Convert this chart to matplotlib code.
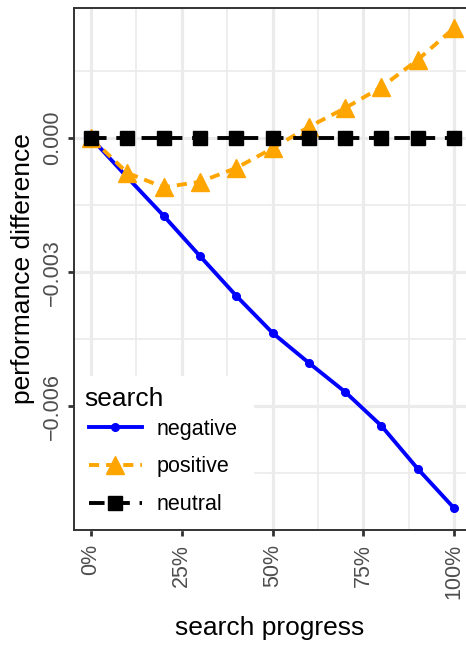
import matplotlib
matplotlib.use("Agg")
import matplotlib.pyplot as plt
from matplotlib.ticker import MultipleLocator, FixedLocator

plt.rcParams["font.family"] = ["Liberation Sans", "DejaVu Sans"]

# valores
progress = [0.0, 0.1, 0.2, 0.3, 0.4, 0.5, 0.6, 0.7, 0.8, 0.9, 1.0]
negative = [0.0, -0.00088, -0.00174, -0.00264, -0.00353, -0.00436,
            -0.00503, -0.00568, -0.00644, -0.0074, -0.00828]
positive = [0.0, -0.00078, -0.0011, -0.00098, -0.00067, -0.00023,
            0.00025, 0.00067, 0.00114, 0.00175, 0.00246]
neutral = [0.0] * len(progress)

x_ticks = [0.0, 0.25, 0.5, 0.75, 1.0]
x_labels = ["0%", "25%", "50%", "75%", "100%"]
y_ticks = [-0.006, -0.003, 0.0]
y_labels = ["\u22120.006", "\u22120.003", "0.000"]

fig = plt.figure(figsize=(4.66, 6.46), dpi=100)
ax = fig.add_axes([74 / 466, 1 - 530 / 646, 1 - 74 / 466, (530 - 8) / 646])

lw = 2.8
ax.plot(progress, negative, color="#0000FF", lw=lw, marker="o", ms=5.5,
        label="negative", zorder=3)
ax.plot(progress, positive, color="#FFA500", lw=lw, ls=(0, (2.6, 1.8)),
        marker="^", ms=12.5, label="positive", zorder=3)
ax.plot(progress, neutral, color="black", lw=lw, ls=(0, (4, 2.5)),
        marker="s", ms=10, label="neutral", zorder=3)

ax.set_xlim(-0.047, 1.033)
ax.set_ylim(-0.00877, 0.00291)

ax.xaxis.set_major_locator(FixedLocator(x_ticks))
ax.set_xticklabels(x_labels, rotation=90, color="#4D4D4D", fontsize=15.5)
ax.xaxis.set_minor_locator(MultipleLocator(0.125))
ax.yaxis.set_major_locator(FixedLocator(y_ticks))
ax.set_yticklabels(y_labels, rotation=90, color="#4D4D4D", fontsize=15.5,
                   va="center")
ax.yaxis.set_minor_locator(MultipleLocator(0.0015))

ax.grid(which="major", color="#EBEBEB", lw=2.3, zorder=0)
ax.grid(which="minor", color="#EBEBEB", lw=1.2, zorder=0)
ax.set_axisbelow(True)
ax.tick_params(which="major", length=4, width=2, color="#333333")
ax.tick_params(axis="x", which="major", pad=6)
ax.tick_params(axis="y", which="major", pad=4)
ax.tick_params(which="minor", length=0)

for side in ["top", "left", "bottom"]:
    ax.spines[side].set_color("#333333")
    ax.spines[side].set_linewidth(1.4)
    ax.spines[side].set_zorder(6)
ax.spines["right"].set_visible(False)

ax.set_xlabel("search progress", fontsize=19, labelpad=12)
ax.set_ylabel("performance difference", fontsize=19, labelpad=5)

leg = ax.legend(title="search", loc="lower left", bbox_to_anchor=(0.0, 0.0),
                borderaxespad=0, frameon=True, fancybox=False,
                edgecolor="white", facecolor="white", framealpha=1,
                fontsize=15.5, title_fontsize=19, handlelength=2.45,
                handletextpad=0.7, borderpad=0.5, labelspacing=0.77)
leg._legend_box.align = "left"
# titulo mas cerca de las entradas, y entradas algo mas a la derecha
leg._legend_box.sep = 2.8
leg._legend_handle_box.pad = 3
leg.set_zorder(5)

fig.savefig("out.png", dpi=100)
